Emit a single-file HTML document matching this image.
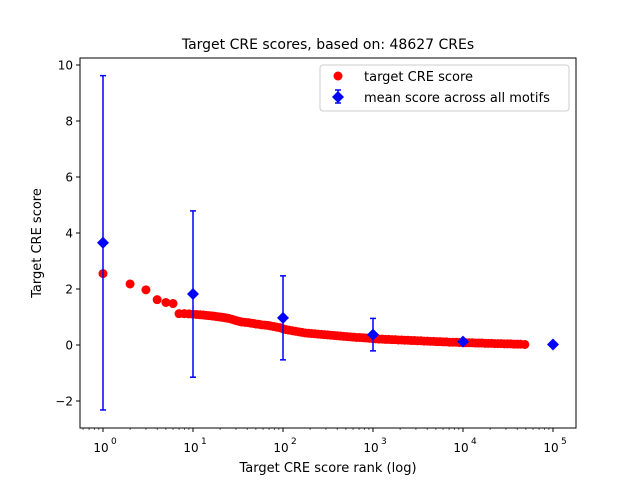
<!DOCTYPE html>
<html><head><meta charset="utf-8"><style>
body{margin:0;background:#fff;}
svg text{font-family:"DejaVu Sans","Liberation Sans",sans-serif;fill:#000;}
</style></head><body>
<svg id="chart" width="640" height="480" xmlns="http://www.w3.org/2000/svg">
<rect width="640" height="480" fill="#fff"/>
<text x="328" y="49" font-size="14" text-anchor="middle">Target CRE scores, based on: 48627 CREs</text>
<g id="plot"></g>
<rect x="80" y="58" width="496" height="370" fill="none" stroke="#000" stroke-width="1"/>
<text x="328" y="472" font-size="13" text-anchor="middle">Target CRE score rank (log)</text>
<text transform="translate(41,243) rotate(-90)" font-size="13" text-anchor="middle">Target CRE score</text>
<g>
<rect x="320" y="65" width="249" height="46" rx="3" fill="#fff" stroke="#ccc"/>
<circle cx="338" cy="76" r="4.5" fill="red"/>
<text x="364" y="81" font-size="13">target CRE score</text>
<line x1="338" y1="90" x2="338" y2="103" stroke="blue" stroke-width="1.5"/>
<line x1="335" y1="90" x2="341" y2="90" stroke="blue" stroke-width="1.5"/>
<line x1="335" y1="103" x2="341" y2="103" stroke="blue" stroke-width="1.5"/>
<path d="M338 91 L344 97 L338 103 L332 97Z" fill="blue"/>
<text x="364" y="102" font-size="13">mean score across all motifs</text>
</g>
</svg>
<script>
const redRanks=[1,2,3,4,5,6,7,8,9,10,11,12,13,14,15,16,17,18,19,20,21,22,23,24,25,27,29,31,33,35,38,41,44,47,50,54,58,63,68,73,79,85,92,100,108,117,127,138,150,163,177,192,208,226,245,266,289,314,341,370,402,436,473,514,558,606,658,714,775,841,913,991,1076,1168,1268,1377,1495,1623,1762,1913,2077,2255,2448,2658,2886,3133,3402,3693,4010,4353,4726,5131,5571,6048,6566,7129,7740,8403,9123,9905,10754,11675,12676,13762,14941,16222,17612,19121,20760,22539,24470,26567,28844,31315,33999,36913,40076,43511,48627];
const redScores=[2.55,2.18,1.97,1.62,1.52,1.48,1.12,1.12,1.11,1.1,1.09,1.08,1.07,1.06,1.05,1.04,1.03,1.02,1.01,1.0,0.99,0.98,0.97,0.96,0.95,0.92,0.89,0.86,0.84,0.82,0.81,0.8,0.78,0.77,0.75,0.74,0.72,0.71,0.7,0.68,0.66,0.64,0.62,0.58,0.55,0.53,0.51,0.49,0.47,0.45,0.43,0.42,0.41,0.4,0.39,0.38,0.37,0.36,0.35,0.34,0.33,0.32,0.31,0.3,0.29,0.28,0.27,0.27,0.26,0.25,0.24,0.23,0.22,0.21,0.21,0.2,0.2,0.19,0.19,0.18,0.18,0.17,0.17,0.16,0.16,0.15,0.15,0.14,0.14,0.13,0.13,0.12,0.12,0.11,0.11,0.1,0.1,0.1,0.09,0.09,0.08,0.08,0.08,0.07,0.07,0.07,0.06,0.06,0.06,0.05,0.05,0.05,0.04,0.04,0.04,0.03,0.03,0.03,0.02];
const blueRanks=[1,10,100,1000,10000,100000];
const blueMeans=[3.65,1.82,0.97,0.37,0.12,0.02];
const blueErrors=[5.97,2.97,1.5,0.58,0.08,0];
const xTicks=[0,1,2,3,4,5];
const yTicks=[-2,0,2,4,6,8,10];
const NS="http://www.w3.org/2000/svg";
const g=document.getElementById('plot');
function X(r){return 103+90*Math.log10(r);}
function Y(v){return 345-28*v;}
function mk(t,a){const e=document.createElementNS(NS,t);for(const k in a)e.setAttribute(k,a[k]);g.appendChild(e);return e;}
xTicks.forEach(p=>{const x=103+90*p;
 const l=mk('line',{x1:x,y1:428,x2:x,y2:432,stroke:'#000'});
 
 
 for(let m=2;m<10;m++){const xm=X(Math.pow(10,p-1)*m);if(xm>80&&xm<576){const t=mk('line',{x1:xm,y1:428,x2:xm,y2:430,stroke:'#000','stroke-width':0.6});}}
 const tx=mk('text',{x:x-2,y:452,'font-size':12,'text-anchor':'middle'});tx.textContent='10';
 
 
 const sp=mk('text',{x:x+8,y:444,'font-size':9});sp.textContent=String(p);
 
 
});
for(let m=2;m<10;m++){const xm=X(Math.pow(10,5)*m);if(xm<576)mk('line',{x1:xm,y1:428,x2:xm,y2:430,stroke:'#000','stroke-width':0.6});}
yTicks.forEach(v=>{const y=Y(v);
 const l=mk('line',{x1:76,y1:y,x2:80,y2:y,stroke:'#000'});
 
 
 const t=mk('text',{x:73,y:y+4.5,'font-size':12,'text-anchor':'end'});t.textContent=v<0?'\u22122':String(v);
 
 
});
redRanks.forEach((r,i)=>{const c=mk('circle',{cx:X(r),cy:Y(redScores[i]),r:4.5,fill:'red'});
 
 
});
blueRanks.forEach((r,i)=>{const x=X(r),m=blueMeans[i],e=blueErrors[i];
 if(e>0){const y1=Y(m+e),y2=Y(m-e);
  const eb=mk('line',{x1:x,y1:y1,x2:x,y2:y2,stroke:'blue','stroke-width':1.5});
  
  
  mk('line',{x1:x-3,y1:y1,x2:x+3,y2:y1,stroke:'blue','stroke-width':1.5});
  mk('line',{x1:x-3,y1:y2,x2:x+3,y2:y2,stroke:'blue','stroke-width':1.5});}
 const y=Y(m);
 const d=mk('path',{d:`M${x} ${y-6}L${x+6} ${y}L${x} ${y+6}L${x-6} ${y}Z`,fill:'blue'});
 
 
});
</script>
</body></html>
